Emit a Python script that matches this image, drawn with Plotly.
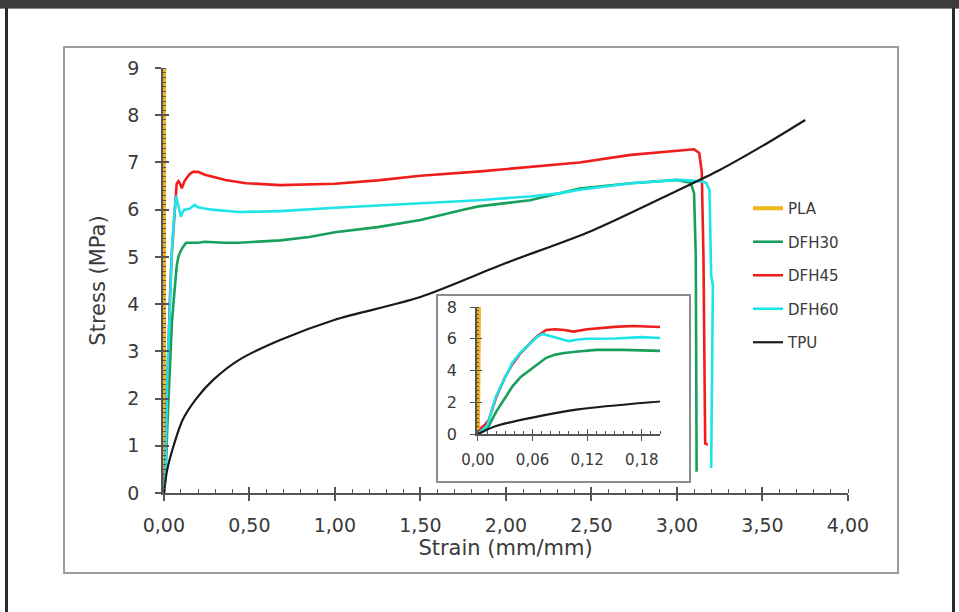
import plotly.graph_objects as go

# ---------------- data ----------------
pla_strain = [0.0, 0.0006, 0.0012, 0.0018, 0.0025]
pla_stress = [0.0, 4.0, 8.0, 12.0, 17.0]

dfh30_strain = [0.0, 0.01, 0.02, 0.03, 0.038, 0.047, 0.057, 0.066, 0.075, 0.085, 0.095, 0.11,
                0.13, 0.16, 0.2, 0.24, 0.35, 0.44, 0.55, 0.68, 0.85, 1.0, 1.25, 1.5, 1.75,
                1.84, 2.14, 2.43, 2.73, 3.0, 3.08, 3.1, 3.11, 3.112, 3.115]
dfh30_stress = [0.0, 0.3, 1.4, 2.3, 3.0, 3.6, 4.05, 4.45, 4.8, 5.0, 5.1, 5.2,
                5.3, 5.3, 5.3, 5.32, 5.3, 5.3, 5.32, 5.35, 5.42, 5.52, 5.63, 5.78, 6.0,
                6.07, 6.2, 6.45, 6.56, 6.63, 6.57, 6.35, 5.0, 2.0, 0.45]

dfh45_strain = [0.0, 0.004, 0.008, 0.012, 0.02, 0.03, 0.038, 0.047, 0.057, 0.066, 0.075, 0.085,
                0.095, 0.105, 0.12, 0.15, 0.17, 0.2, 0.24, 0.36, 0.48, 0.68, 1.0, 1.25, 1.5,
                1.85, 2.14, 2.43, 2.73, 3.02, 3.1, 3.13, 3.145, 3.155, 3.16, 3.165, 3.18]
dfh45_stress = [0.0, 0.4, 0.6, 0.9, 2.3, 3.6, 4.4, 5.1, 5.7, 6.2, 6.55, 6.6,
                6.55, 6.45, 6.6, 6.75, 6.8, 6.8, 6.74, 6.63, 6.56, 6.52, 6.55, 6.62, 6.72,
                6.81, 6.91, 7.0, 7.16, 7.25, 7.28, 7.2, 6.8, 5.0, 2.0, 1.05, 1.02]

dfh60_strain = [0.0, 0.01, 0.02, 0.03, 0.038, 0.047, 0.057, 0.066, 0.071, 0.08, 0.09, 0.1,
                0.11, 0.12, 0.15, 0.18, 0.2, 0.28, 0.44, 0.68, 1.0, 1.5, 1.84, 2.14, 2.32,
                2.43, 2.73, 3.02, 3.14, 3.17, 3.19, 3.195, 3.2, 3.21, 3.205, 3.2]
dfh60_stress = [0.0, 0.5, 2.4, 3.6, 4.5, 5.15, 5.7, 6.15, 6.3, 6.15, 6.0, 5.85,
                5.95, 6.0, 6.02, 6.1, 6.05, 6.0, 5.95, 5.97, 6.04, 6.14, 6.2, 6.28, 6.35,
                6.42, 6.56, 6.63, 6.6, 6.57, 6.42, 5.5, 4.6, 4.4, 3.0, 0.53]

tpu_strain = [0.0, 0.02, 0.057, 0.11, 0.19, 0.29, 0.44, 0.68, 1.0, 1.5, 2.0, 2.5, 3.0, 3.25, 3.5, 3.75]
tpu_stress = [0.0, 0.5, 1.0, 1.55, 2.0, 2.4, 2.82, 3.24, 3.67, 4.15, 4.87, 5.55, 6.4, 6.84, 7.35, 7.9]

series_names = ["PLA", "DFH30", "DFH45", "DFH60", "TPU"]
series_colors = ["#f2b31f", "#16a05a", "#f01d1d", "#1de4e8", "#1a1a1a"]
series_x = [pla_strain, dfh30_strain, dfh45_strain, dfh60_strain, tpu_strain]
series_y = [pla_stress, dfh30_stress, dfh45_stress, dfh60_stress, tpu_stress]
series_w = [4, 2.6, 2.6, 2.6, 2.2]
series_shape = ["linear", "linear", "linear", "linear", "spline"]

x_title = "Strain (mm/mm)"
y_title = "Stress (MPa)"

# ---------------- layout geometry (pixels) ----------------
W_PX, H_PX = 959, 612
L, R, T, B = 163, 848, 68, 493
PW, PH = R - L, B - T


def px(xp):
    return (xp - L) / PW


def py(yp):
    return (B - yp) / PH


TXT = "#3a3a3a"
AX = "#555555"
FONT = "DejaVu Sans"

fig = go.Figure()

for n, c, xs, ys, w, s in zip(series_names, series_colors, series_x, series_y, series_w, series_shape):
    fig.add_trace(go.Scatter(x=xs, y=ys, mode="lines", name=n, legendgroup=n,
                             line=dict(color=c, width=w, shape=s, smoothing=0.8),
                             xaxis="x", yaxis="y"))
for n, c, xs, ys, w, s in zip(series_names, series_colors, series_x, series_y, series_w, series_shape):
    fig.add_trace(go.Scatter(x=xs, y=ys, mode="lines", name=n, showlegend=False,
                             line=dict(color=c, width=w, shape=s, smoothing=0.8),
                             xaxis="x2", yaxis="y2"))

# dummy traces for overlay axes (cross-ticks)
fig.add_trace(go.Scatter(x=[None], y=[None], xaxis="x3", yaxis="y", showlegend=False, hoverinfo="skip"))
fig.add_trace(go.Scatter(x=[None], y=[None], xaxis="x", yaxis="y3", showlegend=False, hoverinfo="skip"))
fig.add_trace(go.Scatter(x=[None], y=[None], xaxis="x4", yaxis="y2", showlegend=False, hoverinfo="skip"))
fig.add_trace(go.Scatter(x=[None], y=[None], xaxis="x2", yaxis="y4", showlegend=False, hoverinfo="skip"))

main_x_range = [-0.005, 4.0]
main_y_range = [0, 9]
ins_x_range = [-0.001, 0.2]
ins_y_range = [0, 8]

ins_xd = [px(477), px(660)]
ins_yd = [py(434), py(307)]

common = dict(showgrid=False, zeroline=False, color=TXT)

fig.update_layout(
    width=W_PX, height=H_PX,
    margin=dict(l=L, r=W_PX - R, t=T, b=H_PX - B),
    paper_bgcolor="white", plot_bgcolor="white",
    separators=",.",
    font=dict(family=FONT, color=TXT),
    showlegend=True,
    legend=dict(x=px(748), y=py(192), xanchor="left", yanchor="top",
                font=dict(size=15, color=TXT, family=FONT),
                tracegroupgap=11, bgcolor="rgba(0,0,0,0)", itemwidth=30),
    xaxis=dict(domain=[0, 1], range=main_x_range, anchor="y", tickmode="linear", tick0=0, dtick=0.5,
               tickformat=".2f", ticks="outside", ticklen=6, tickwidth=1.5, tickcolor=AX,
               showline=True, linecolor=AX, linewidth=1.5,
               minor=dict(dtick=0.1, tick0=0, ticks="inside", ticklen=4, tickwidth=1.2, tickcolor=AX),
               tickfont=dict(size=19, color=TXT), ticklabelstandoff=8,
               title=dict(text=x_title, font=dict(size=21, color=TXT), standoff=6), **common),
    yaxis=dict(domain=[0, 1], range=main_y_range, anchor="x", tickmode="linear", tick0=0, dtick=1,
               ticks="outside", ticklen=6, tickwidth=1.5, tickcolor=AX,
               showline=True, linecolor=AX, linewidth=1.5,
               minor=dict(dtick=0.1, tick0=0, ticks="inside", ticklen=3, tickwidth=1.2, tickcolor=AX),
               tickfont=dict(size=19, color=TXT), ticklabelstandoff=12,
               title=dict(text=y_title, font=dict(size=21, color=TXT), standoff=16), **common),
    xaxis3=dict(overlaying="x", anchor="y", range=main_x_range, tickmode="linear", tick0=0, dtick=0.5,
                ticks="inside", ticklen=6, tickwidth=1.5, tickcolor=AX, showticklabels=False,
                showline=False, **common),
    yaxis3=dict(overlaying="y", anchor="x", range=main_y_range, tickmode="linear", tick0=0, dtick=1,
                ticks="inside", ticklen=6, tickwidth=1.5, tickcolor=AX, showticklabels=False,
                showline=False, **common),
    xaxis2=dict(domain=ins_xd, range=ins_x_range, anchor="y2", tickmode="linear", tick0=0, dtick=0.06,
                tickformat=".2f", ticks="outside", ticklen=5, tickwidth=1.3, tickcolor=AX,
                showline=True, linecolor=AX, linewidth=1.5,
                minor=dict(dtick=0.01, tick0=0, ticks="inside", ticklen=3, tickwidth=1.1, tickcolor=AX),
                tickfont=dict(size=15, color=TXT), ticklabelstandoff=6, **common),
    yaxis2=dict(domain=ins_yd, range=ins_y_range, anchor="x2", tickmode="linear", tick0=0, dtick=2,
                ticks="outside", ticklen=5, tickwidth=1.3, tickcolor=AX,
                showline=True, linecolor=AX, linewidth=1.5,
                minor=dict(dtick=0.25, tick0=0, ticks="inside", ticklen=2, tickwidth=1.1, tickcolor=AX),
                tickfont=dict(size=16, color=TXT), ticklabelstandoff=10, **common),
    xaxis4=dict(overlaying="x2", anchor="y2", range=ins_x_range, tickmode="linear", tick0=0, dtick=0.06,
                ticks="inside", ticklen=5, tickwidth=1.3, tickcolor=AX, showticklabels=False,
                showline=False, **common),
    yaxis4=dict(overlaying="y2", anchor="x2", range=ins_y_range, tickmode="linear", tick0=0, dtick=2,
                ticks="inside", ticklen=5, tickwidth=1.3, tickcolor=AX, showticklabels=False,
                showline=False, **common),
)

shapes = [
    # inset box
    dict(type="rect", xref="paper", yref="paper", x0=px(437), x1=px(690), y0=py(482), y1=py(295),
         line=dict(color="#8c8c8c", width=2), fillcolor="white", layer="below"),
    # inner chart frame
    dict(type="rect", xref="paper", yref="paper", x0=px(64), x1=px(898), y0=py(573), y1=py(47),
         line=dict(color="#9c9c9c", width=2), fillcolor="rgba(0,0,0,0)", layer="below"),
    # dark top band
    dict(type="rect", xref="paper", yref="paper", x0=px(0), x1=px(959), y0=py(8), y1=py(0),
         line=dict(width=0), fillcolor="#3c3c3c", layer="above"),
    dict(type="line", xref="paper", yref="paper", x0=px(0), x1=px(959), y0=py(8.5), y1=py(8.5),
         line=dict(color="#8a8a8a", width=1), layer="above"),
    # side borders
    dict(type="rect", xref="paper", yref="paper", x0=px(5), x1=px(8), y0=py(612), y1=py(8),
         line=dict(width=0), fillcolor="#2b2b2b", layer="above"),
    dict(type="rect", xref="paper", yref="paper", x0=px(952), x1=px(955), y0=py(612), y1=py(8),
         line=dict(width=0), fillcolor="#2b2b2b", layer="above"),
]
fig.update_layout(shapes=shapes)

fig.write_html("out.html")
